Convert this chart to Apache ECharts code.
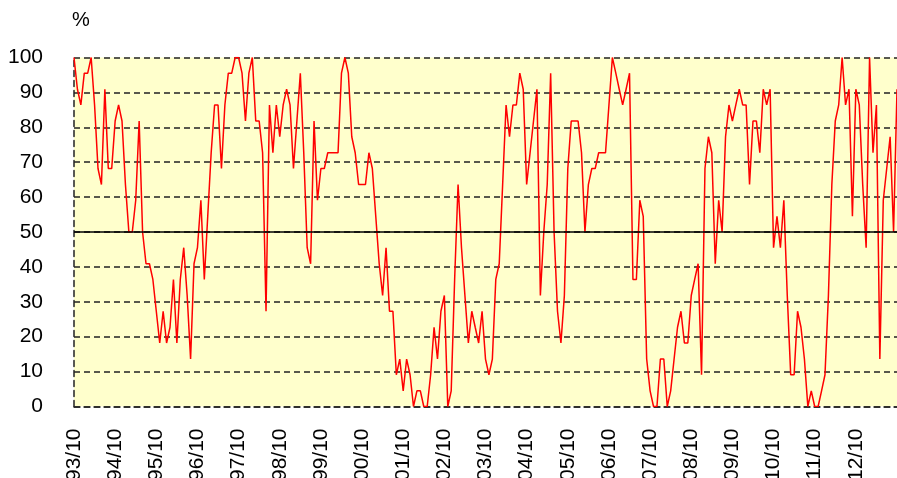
<!DOCTYPE html>
<html>
<head>
<meta charset="utf-8">
<script src="https://cdn.jsdelivr.net/npm/echarts@6/dist/echarts.min.js"></script>
<style>
html,body{margin:0;padding:0;background:#fff;}
#c{width:897px;height:478px;}
</style>
</head>
<body>
<div id="c"></div>
<script>
// Monthly series starting 1993/10
var startYear = 1993;
var startMonth = 10;
var values = [
  100, 90.9, 86.4, 95.5, 95.5, 100, 86.4, 68.2, 63.6, 90.9,
  68.2, 68.2, 81.8, 86.4, 81.8, 63.6, 50, 50, 59.1, 81.8,
  50, 40.9, 40.9, 36.4, 27.3, 18.2, 27.3, 18.2, 22.7, 36.4,
  18.2, 36.4, 45.5, 31.8, 13.6, 40.9, 45.5, 59.1, 36.4, 54.5,
  72.7, 86.4, 86.4, 68.2, 86.4, 95.5, 95.5, 100, 100, 95.5,
  81.8, 95.5, 100, 81.8, 81.8, 72.7, 27.3, 86.4, 72.7, 86.4,
  77.3, 86.4, 90.9, 86.4, 68.2, 81.8, 95.5, 72.7, 45.5, 40.9,
  81.8, 59.1, 68.2, 68.2, 72.7, 72.7, 72.7, 72.7, 95.5, 100,
  95.5, 77.3, 72.7, 63.6, 63.6, 63.6, 72.7, 68.2, 54.5, 40.9,
  31.8, 45.5, 27.3, 27.3, 9.1, 13.6, 4.5, 13.6, 9.1, 0,
  4.5, 4.5, 0, 0, 9.1, 22.7, 13.6, 27.3, 31.8, 0,
  4.5, 36.4, 63.6, 45.5, 31.8, 18.2, 27.3, 22.7, 18.2, 27.3,
  13.6, 9.1, 13.6, 36.4, 40.9, 63.6, 86.4, 77.3, 86.4, 86.4,
  95.5, 90.9, 63.6, 72.7, 81.8, 90.9, 31.8, 50, 63.6, 95.5,
  50, 27.3, 18.2, 31.8, 68.2, 81.8, 81.8, 81.8, 72.7, 50,
  63.6, 68.2, 68.2, 72.7, 72.7, 72.7, 86.4, 100, 95.5, 90.9,
  86.4, 90.9, 95.5, 36.4, 36.4, 59.1, 54.5, 13.6, 4.5, 0,
  0, 13.6, 13.6, 0, 4.5, 13.6, 22.7, 27.3, 18.2, 18.2,
  31.8, 36.4, 40.9, 9.1, 68.2, 77.3, 72.7, 40.9, 59.1, 50,
  77.3, 86.4, 81.8, 86.4, 90.9, 86.4, 86.4, 63.6, 81.8, 81.8,
  72.7, 90.9, 86.4, 90.9, 45.5, 54.5, 45.5, 59.1, 31.8, 9.1,
  9.1, 27.3, 22.7, 13.6, 0, 4.5, 0, 0, 4.5, 9.1,
  31.8, 63.6, 81.8, 86.4, 100, 86.4, 90.9, 54.5, 90.9, 86.4,
  63.6, 45.5, 100, 72.7, 86.4, 13.6, 59.1, 68.2, 77.3, 50, 90.9
];
// x tick labels shown (every October)
var tickLabels = ['93/10','94/10','95/10','96/10','97/10','98/10','99/10','00/10','01/10','02/10',
                  '03/10','04/10','05/10','06/10','07/10','08/10','09/10','10/10','11/10','12/10'];
var yTicks = [0, 10, 20, 30, 40, 50, 60, 70, 80, 90, 100];
var unitLabel = '%';

var categories = [];
for (var i = 0; i < values.length; i++) {
  var m = startMonth - 1 + i;
  var y = startYear + Math.floor(m / 12);
  var mm = (m % 12) + 1;
  categories.push(String(y % 100).padStart(2, '0') + '/' + String(mm).padStart(2, '0'));
}

var FONT = 'Liberation Sans, Arial, sans-serif';
var chart = echarts.init(document.getElementById('c'), null, {renderer: 'canvas'});
chart.setOption({
  animation: false,
  backgroundColor: '#ffffff',
  grid: {left: 74, right: 0, top: 57.5, bottom: 71.5, show: true, backgroundColor: '#FFFFCC', borderWidth: 0,
         containLabel: false, outerBoundsMode: 'none'},
  graphic: [{
    type: 'text', left: 72, top: 10,
    style: {text: unitLabel, font: '20px ' + FONT, fill: '#000'}
  }],
  xAxis: {
    type: 'category',
    data: categories,
    boundaryGap: false,
    axisLine: {show: true, lineStyle: {color: '#222', width: 1.5, type: [6, 4]}},
    axisTick: {show: false},
    axisLabel: {
      interval: function (idx, name) { return tickLabels.indexOf(name) >= 0; },
      rotate: 90, margin: 22, fontSize: 21, fontFamily: FONT, color: '#000',
      padding: [0, 0, 8, 0]
    },
    splitLine: {show: false}
  },
  yAxis: {
    type: 'value',
    min: yTicks[0], max: yTicks[yTicks.length - 1], interval: 10,
    axisLine: {show: true, lineStyle: {color: '#222', width: 1.5, type: [6, 4]}},
    axisTick: {show: false},
    axisLabel: {margin: 31, fontSize: 21, fontFamily: FONT, color: '#000'},
    splitLine: {show: true, lineStyle: {color: '#222', width: 1.5, type: [6, 4]}}
  },
  series: [{
    type: 'line',
    data: values,
    symbol: 'none',
    lineStyle: {color: '#FF0000', width: 1.5},
    markLine: {
      silent: true, symbol: 'none', label: {show: false},
      lineStyle: {color: '#000', width: 1.5, type: 'solid'},
      data: [{yAxis: 50}]
    }
  }]
});
</script>
</body>
</html>
